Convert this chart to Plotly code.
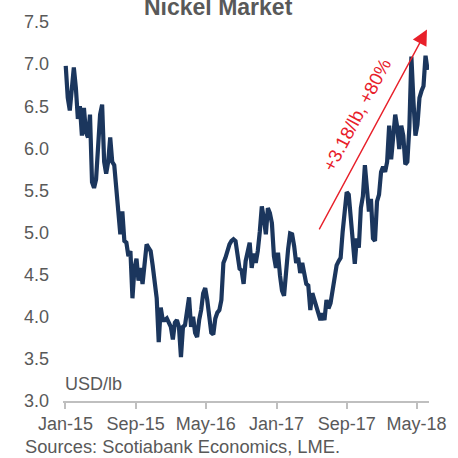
import pandas as pd
import plotly.graph_objects as go

# Nickel price, USD/lb, weekly readings from Jan-2015 to Jun-2018
start_date = "2015-01-02"
nickel_usd_lb = [
    6.98, 6.60, 6.45, 6.77, 6.96, 6.72, 6.35, 6.50, 6.15, 6.48,
    6.19, 6.13, 6.40, 5.60, 5.53, 5.63, 5.95, 6.40, 6.52, 5.84,
    5.70, 5.84, 6.13, 5.84, 5.80, 5.54, 5.37, 4.98, 5.25, 4.90,
    4.88, 4.72, 4.78, 4.22, 4.58, 4.69, 4.43, 4.58, 4.39, 4.61,
    4.86, 4.82, 4.78, 4.61, 4.37, 4.22, 3.70, 4.11, 3.96, 3.96,
    3.98, 3.94, 3.88, 3.73, 3.93, 3.96, 3.88, 3.52, 3.88, 3.90,
    4.08, 4.23, 3.88, 4.00, 3.81, 3.76, 3.96, 4.08, 4.28, 4.34,
    4.20, 3.96, 3.81, 3.79, 3.98, 4.05, 4.08, 4.20, 4.64, 4.70,
    4.80, 4.86, 4.90, 4.92, 4.90, 4.72, 4.57, 4.55, 4.39, 4.66,
    4.80, 4.88, 4.58, 4.75, 4.64, 4.78, 5.01, 5.31, 5.17, 4.98,
    5.29, 5.23, 5.11, 4.72, 4.58, 4.76, 4.49, 4.31, 4.25, 4.61,
    4.80, 4.99, 4.98, 4.84, 4.64, 4.70, 4.52, 4.64, 4.52, 4.39,
    4.37, 4.08, 4.28, 4.20, 4.11, 4.05, 3.96, 4.04, 3.96, 4.20,
    4.10, 4.16, 4.29, 4.43, 4.61, 4.66, 4.70, 5.01, 5.25, 5.48,
    5.45, 5.19, 4.90, 4.63, 4.93, 4.82, 5.29, 5.43, 5.80, 5.57,
    5.25, 5.40, 4.93, 4.90, 5.37, 5.45, 5.72, 5.78, 5.72, 5.84,
    6.27, 5.87, 6.13, 6.40, 6.25, 5.99, 6.27, 6.15, 5.81, 5.84,
    6.25, 7.09, 6.57, 6.15, 6.28, 6.60, 6.68, 6.74, 7.10, 6.93,
]
dates = pd.date_range(start_date, periods=len(nickel_usd_lb), freq="7D")

x_tick_dates = ["2015-01-01", "2015-09-01", "2016-05-01", "2017-01-01", "2017-09-01", "2018-05-01"]
x_tick_labels = ["Jan-15", "Sep-15", "May-16", "Jan-17", "Sep-17", "May-18"]
y_ticks = [3.0, 3.5, 4.0, 4.5, 5.0, 5.5, 6.0, 6.5, 7.0, 7.5]

title_text = "Nickel Market"
unit_text = "USD/lb"
source_text = "Sources: Scotiabank Economics, LME."
arrow_text = "+3.18/lb, +80%"
arrow_start = ("2017-05-26", 5.02)
arrow_end = ("2018-06-06", 7.41)
arrow_label_pos = ("2017-10-05", 6.39)

FONT = "Liberation Sans, Arial, sans-serif"
GREY = "#595959"
NAVY = "#1B365D"
RED = "#E8202A"

fig = go.Figure()
fig.add_trace(go.Scatter(
    x=dates, y=nickel_usd_lb, mode="lines",
    line=dict(color=NAVY, width=4.2), hoverinfo="skip", showlegend=False,
))

fig.update_layout(
    width=458, height=458,
    margin=dict(l=63, r=21, t=20, b=57),
    paper_bgcolor="white", plot_bgcolor="white",
    font=dict(family=FONT, size=18, color=GREY),
    xaxis=dict(
        type="date", range=["2014-12-23 12:00", "2018-06-13"],
        tickvals=x_tick_dates, ticktext=x_tick_labels,
        showgrid=False, zeroline=False,
        showline=True, linecolor="#BFBFBF", linewidth=1.5,
        ticks="outside", ticklen=6, tickwidth=1.5, tickcolor="#BFBFBF",
        tickfont=dict(size=18, color=GREY),
    ),
    yaxis=dict(
        range=[3.0, 7.5], tickvals=y_ticks, tickformat=".1f",
        showgrid=False, zeroline=False, showline=False,
        ticks="", ticklabelstandoff=13,
        tickfont=dict(size=18, color=GREY),
    ),
)

fig.add_annotation(
    text="<b>" + title_text + "</b>", xref="paper", yref="paper",
    x=0.425, y=1.0, xanchor="center", yanchor="bottom",
    showarrow=False, font=dict(size=23, color=GREY, family=FONT),
)
fig.add_annotation(
    text=unit_text, xref="paper", yref="paper",
    x=0.0, y=0.045, xanchor="left", yanchor="middle",
    showarrow=False, font=dict(size=18, color=GREY, family=FONT),
)
fig.add_annotation(
    text=source_text, xref="paper", yref="paper",
    x=-0.1096, y=-0.1207, xanchor="left", yanchor="middle",
    showarrow=False, font=dict(size=18.3, color=GREY, family=FONT),
)
fig.add_annotation(
    x=arrow_end[0], y=arrow_end[1], ax=arrow_start[0], ay=arrow_start[1],
    xref="x", yref="y", axref="x", ayref="y",
    text="", showarrow=True, arrowhead=2, arrowsize=2.2, arrowwidth=1.4,
    arrowcolor=RED,
)
fig.add_annotation(
    x=arrow_label_pos[0], y=arrow_label_pos[1], xref="x", yref="y",
    text=arrow_text, showarrow=False, textangle=-62,
    font=dict(size=18.5, color=RED, family=FONT),
)

fig.write_html(
    "out.html",
    config={"displayModeBar": False},
    post_script="document.body.style.margin='0';document.body.style.overflow='hidden';",
)
